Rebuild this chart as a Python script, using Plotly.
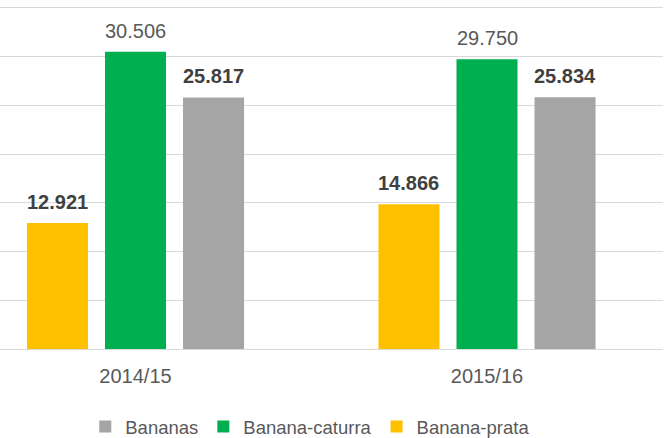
import plotly.graph_objects as go

categories = ["2014/15", "2015/16"]
series_names = ["Banana-prata", "Banana-caturra", "Bananas"]
banana_prata = [12.921, 14.866]
banana_caturra = [30.506, 29.750]
bananas = [25.817, 25.834]

colors = ["#FFC000", "#00B050", "#A5A5A5"]
label_bold = [True, False, True]
label_colors = ["#404040", "#595959", "#404040"]

series_values = [banana_prata, banana_caturra, bananas]

BARGAP = 0.334
BARGROUPGAP = 0.218
FONT = "Liberation Sans"

fig = go.Figure()
for name, vals, col in zip(series_names, series_values, colors):
    fig.add_trace(go.Bar(
        x=categories, y=vals, name=name,
        marker=dict(color=col, line=dict(width=0)),
        hoverinfo="skip",
    ))

slot = (1 - BARGAP) / len(series_names)
annotations = []
for k, (vals, bold, lc) in enumerate(zip(series_values, label_bold, label_colors)):
    for i, v in enumerate(vals):
        txt = f"{v:.3f}"
        if bold:
            txt = f"<b>{txt}</b>"
        annotations.append(dict(
            x=i + (k - (len(series_names) - 1) / 2) * slot, y=v,
            xref="x", yref="y", text=txt, showarrow=False,
            yanchor="bottom", yshift=8,
            font=dict(family=FONT, size=20, color=lc),
        ))

fig.update_layout(
    width=666, height=438,
    margin=dict(l=0, r=3, t=0, b=89, autoexpand=False),
    paper_bgcolor="white", plot_bgcolor="white",
    barmode="group", bargap=BARGAP, bargroupgap=BARGROUPGAP,
    annotations=annotations,
    showlegend=True,
    legend=dict(
        orientation="h", x=0.468, xanchor="center",
        yref="container", y=0.025, yanchor="middle",
        traceorder="reversed",
        font=dict(family=FONT, size=18.5, color="#595959"),
    ),
    xaxis=dict(
        range=[-0.3855, 1.5007], showgrid=False, zeroline=False,
        showline=False, ticks="", ticklabelstandoff=13,
        tickfont=dict(family=FONT, size=20, color="#595959"),
    ),
    yaxis=dict(
        range=[0, 35.82], dtick=5, showticklabels=False,
        gridcolor="#D9D9D9", gridwidth=1,
        zeroline=True, zerolinecolor="#D9D9D9", zerolinewidth=1,
    ),
)

fig.write_html("out.html", config={"displayModeBar": False},
               post_script="document.body.style.margin='0';")
